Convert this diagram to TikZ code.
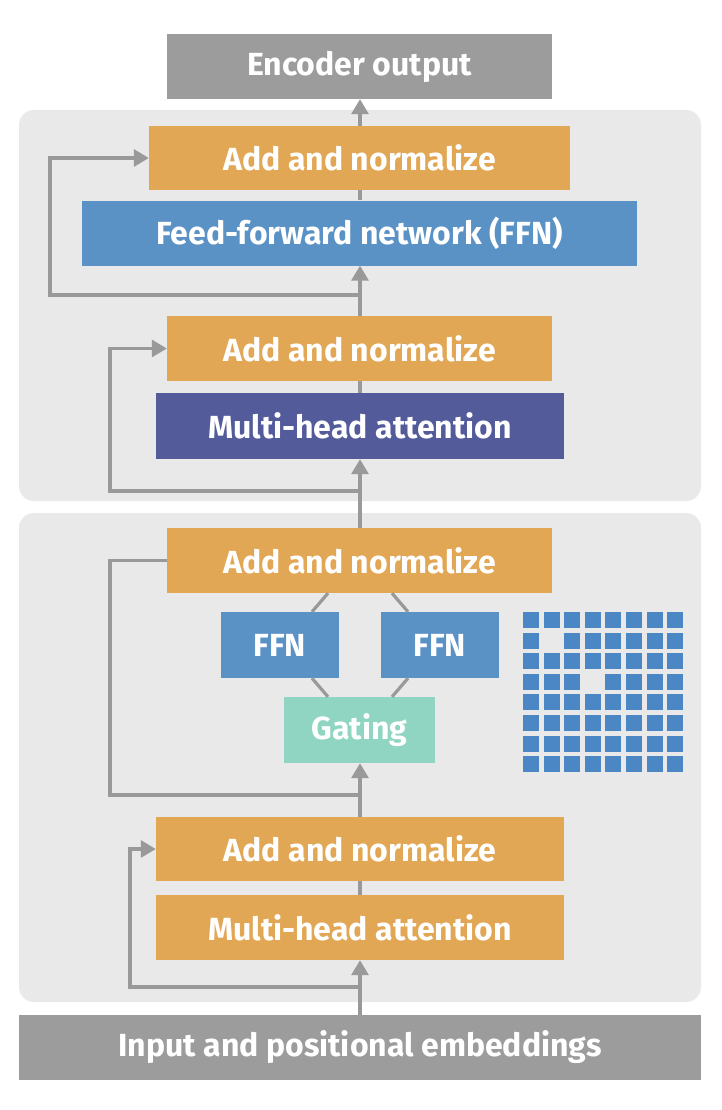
\documentclass[tikz,border=0pt]{standalone}
\usepackage{fontspec}
\setmainfont{Fira Sans}
\usetikzlibrary{arrows.meta,calc}
\definecolor{panelgray}{HTML}{E9E9E9}
\definecolor{boxgray}{HTML}{9C9C9C}
\definecolor{orangebox}{HTML}{E2A755}
\definecolor{bluebox}{HTML}{5B92C6}
\definecolor{purplebox}{HTML}{535B9A}
\definecolor{gatebox}{HTML}{8FD5C2}
\definecolor{linegray}{HTML}{999999}
\definecolor{gridblue}{HTML}{4B87C5}
\tikzset{
  blk/.style={inner sep=0pt, text=white, font=\fontsize{32}{36}\selectfont\bfseries},
  conn/.style={draw=linegray, line width=3.2pt},
  arr/.style={conn, -{Triangle[width=17pt,length=15pt]}},
  panel/.style={fill=panelgray, rounded corners=15pt},
  sq/.style={fill=gridblue}
}
\begin{document}
\begin{tikzpicture}[x=1pt,y=-1pt]
\useasboundingbox[fill=white] (0,0) rectangle (722,1110);
% panels
\fill[panel] (19,110) rectangle (701,501);
\fill[panel] (19,513) rectangle (701,1002);
% boxes
\node[blk, fill=boxgray, minimum width=385pt, minimum height=65pt] (enc) at (359.5,66.5) {Encoder output};
\node[blk, fill=orangebox, minimum width=421pt, minimum height=64pt] (an1) at (359.5,158) {Add and normalize};
\node[blk, fill=bluebox, minimum width=555pt, minimum height=65pt] (ffnbig) at (359.5,233) {Feed-forward network (FFN)};
\node[blk, fill=orangebox, minimum width=385pt, minimum height=65pt] (an2) at (359.5,348.5) {Add and normalize};
\node[blk, fill=purplebox, minimum width=408pt, minimum height=66pt] (mha1) at (360,426) {Multi-head attention};
\node[blk, fill=orangebox, minimum width=385pt, minimum height=65pt] (an3) at (359.5,560.5) {Add and normalize};
\node[blk, fill=bluebox, minimum width=118pt, minimum height=66pt] (ffna) at (280,645) {FFN};
\node[blk, fill=bluebox, minimum width=118pt, minimum height=66pt] (ffnb) at (440,645) {FFN};
\node[blk, fill=gatebox, minimum width=151pt, minimum height=66pt] (gate) at (359.5,730) {Gating};
\node[blk, fill=orangebox, minimum width=408pt, minimum height=64pt] (an4) at (360,849) {Add and normalize};
\node[blk, fill=orangebox, minimum width=408pt, minimum height=65pt] (mha2) at (360,927.5) {Multi-head attention};
\node[blk, fill=boxgray, minimum width=682pt, minimum height=65pt] (inp) at (360,1047.5) {Input and positional embeddings};
% residual branch points
\coordinate (r1) at (360,295);
\coordinate (r2) at (360,491);
\coordinate (r3) at (360,795);
\coordinate (r4) at (360,987);
% main path
\draw[arr] (inp.north -| r4) -- (mha2.south -| r4);
\draw[conn] (mha2.north -| r4) -- (an4.south -| r4);
\draw[arr] (an4.north -| r4) -- (gate.south -| r4);
\draw[arr] (an3.north -| r4) -- (mha1.south -| r4);
\draw[conn] (mha1.north -| r4) -- (an2.south -| r4);
\draw[arr] (an2.north -| r4) -- (ffnbig.south -| r4);
\draw[conn] (ffnbig.north -| r4) -- (an1.south -| r4);
\draw[arr] (an1.north -| r4) -- (enc.south -| r4);
% residual connections
\draw[arr] (r4) -- ++(-230,0) |- (an4.west);
\draw[conn] (r3) -- ++(-250,0) |- (an3.west);
\draw[arr] (r2) -- ++(-250,0) |- (an2.west);
\draw[arr] (r1) -- ++(-310,0) |- (an1.west);
% expert connections
\draw[conn] ([xshift=-31.5pt]gate.north) -- ([xshift=32pt]ffna.south);
\draw[conn] ([xshift=32.5pt]gate.north) -- ([xshift=-32pt]ffnb.south);
\draw[conn] ([xshift=32pt]ffna.north) -- ([xshift=-31.5pt]an3.south);
\draw[conn] ([xshift=-32pt]ffnb.north) -- ([xshift=32.5pt]an3.south);
% grid of experts (two empty cells)
\foreach \gr in {0,...,7}{
  \foreach \gc in {0,...,7}{
    \pgfmathtruncatemacro{\gidx}{\gr*8+\gc}
    \ifnum\gidx=9\relax\else
      \ifnum\gidx=27\relax\else
        \fill[sq] ({523+\gc*20.6},{612+\gr*20.6}) rectangle ++(16,16);
      \fi
    \fi
  }
}
\end{tikzpicture}
\end{document}
